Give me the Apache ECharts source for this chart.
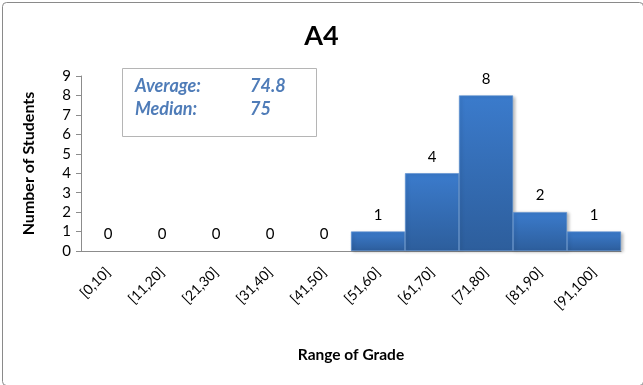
<!DOCTYPE html>
<html><head><meta charset="utf-8">
<script src="https://cdn.jsdelivr.net/npm/echarts@6/dist/echarts.min.js"></script>
<style>html,body{margin:0;padding:0;background:#fff}#c{width:643px;height:385px}</style>
</head><body><div id="c"></div>
<script>
const categories = ['[0,10]','[11,20]','[21,30]','[31,40]','[41,50]','[51,60]','[61,70]','[71,80]','[81,90]','[91,100]'];
const counts = [0,0,0,0,0,1,4,8,2,1];
const statLabels = ['Average:','Median:'];
const statValues = ['74.8','75'];
const yTicks = [0,1,2,3,4,5,6,7,8,9];

const FONT = 'Lato, "Open Sans", sans-serif';
const chart = echarts.init(document.getElementById('c'), null, {renderer:'canvas'});
const statColor = '#4f7cb8';
const barData = counts.map(v => v === 0 ? {value:v, itemStyle:{borderWidth:0, shadowBlur:0, shadowOffsetX:0, shadowOffsetY:0}} : v);
chart.setOption({
  animation:false,
  backgroundColor:'#fff',
  title:{text:'A4', left:'center', top:18, textStyle:{fontFamily:FONT, fontWeight:'bold', fontSize:27, color:'#000'}},
  grid:{left:81, right:22, top:76, bottom:134, containLabel:false},
  xAxis:{type:'category', data:categories, name:'Range of Grade', nameLocation:'middle', nameGap:96,
    nameTextStyle:{fontFamily:FONT, fontWeight:'bold', fontSize:15.5, color:'#000'},
    axisLine:{lineStyle:{color:'#8c8c8c'}}, axisTick:{show:false},
    axisLabel:{rotate:45, fontFamily:FONT, fontSize:14, color:'#000', margin:19, interval:0}},
  yAxis:{type:'value', min:yTicks[0], max:yTicks[yTicks.length-1], interval:1, name:'Number of Students', nameLocation:'middle', nameGap:44,
    nameTextStyle:{fontFamily:FONT, fontWeight:'bold', fontSize:16, color:'#000'},
    axisLine:{show:true, lineStyle:{color:'#8c8c8c'}}, axisTick:{show:true, length:5, lineStyle:{color:'#8c8c8c'}},
    splitLine:{show:false},
    axisLabel:{fontFamily:FONT, fontSize:15, color:'#000', margin:10}},
  series:[{type:'bar', data:barData, barCategoryGap:'0%',
    itemStyle:{color:new echarts.graphic.LinearGradient(0,0,0,1,[{offset:0,color:'#3b7bcc'},{offset:1,color:'#2d5e9c'}]),
      borderColor:'#5a8fd0', borderWidth:0.6, shadowColor:'rgba(0,0,0,0.25)', shadowOffsetX:2, shadowOffsetY:1, shadowBlur:3},
    label:{show:true, position:'top', distance:9, fontFamily:FONT, fontSize:15, color:'#000'}}],
  graphic:[
    {type:'rect', left:0, top:0, shape:{width:641, height:383, r:4}, style:{fill:'none', stroke:'#8a8a8a', lineWidth:1}, silent:true},
    {type:'rect', left:122, top:68, shape:{width:194, height:68}, style:{fill:'#fff', stroke:'#b5b5b5', lineWidth:1}, silent:true},
    {type:'text', left:135, top:77, style:{text:statLabels[0], font:'italic bold 18px '+FONT, fill:statColor}},
    {type:'text', left:250, top:77, style:{text:statValues[0], font:'italic bold 18px '+FONT, fill:statColor}},
    {type:'text', left:135, top:100, style:{text:statLabels[1], font:'italic bold 18px '+FONT, fill:statColor}},
    {type:'text', left:250, top:100, style:{text:statValues[1], font:'italic bold 18px '+FONT, fill:statColor}}
  ]
});
</script></body></html>
